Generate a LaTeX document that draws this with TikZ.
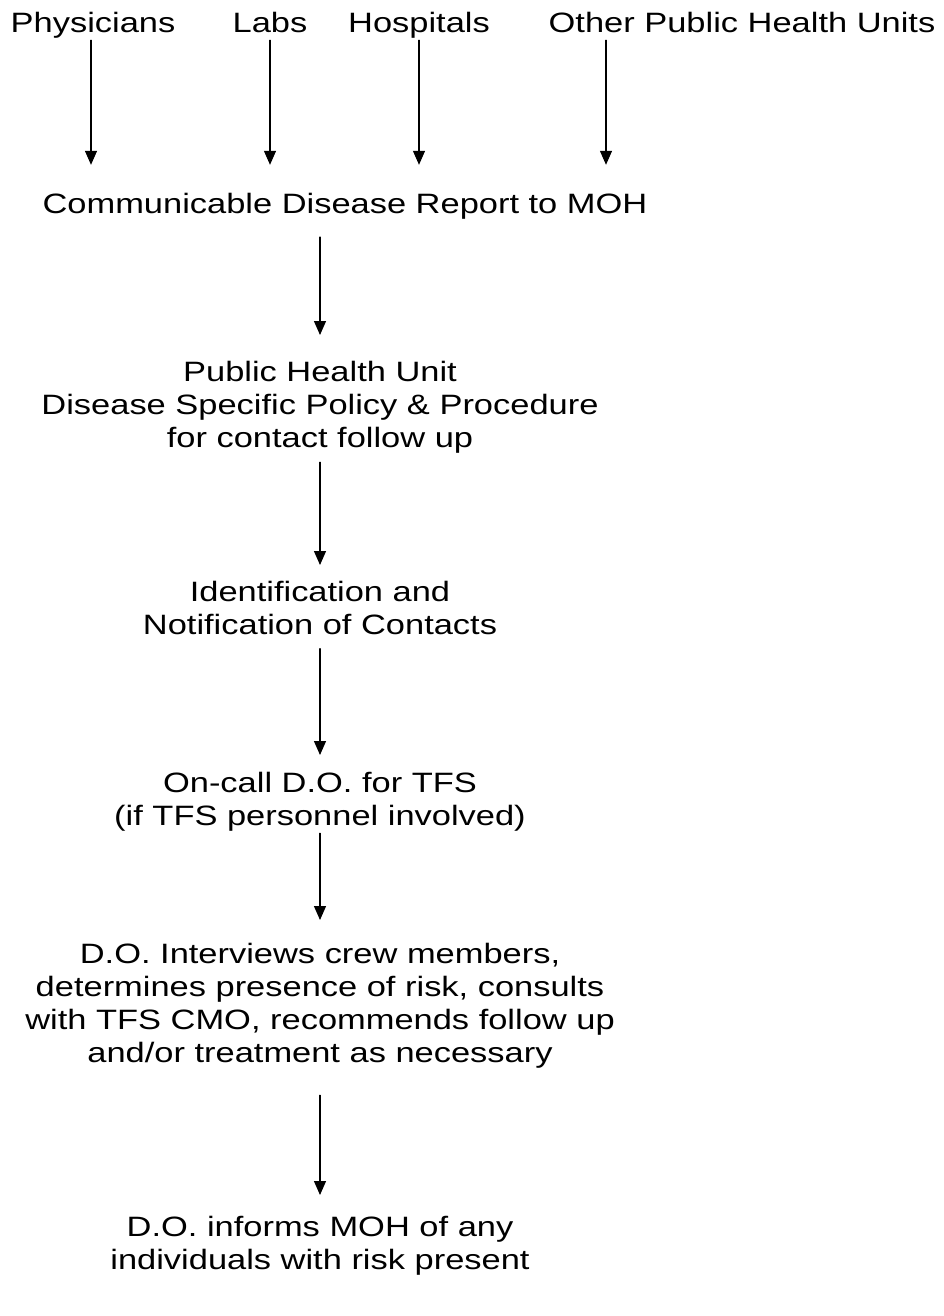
\documentclass[tikz,border=0pt]{standalone}
\usepackage{fontspec}
\setmainfont[FakeStretch=1.23]{Liberation Sans}
\usetikzlibrary{arrows.meta,positioning}

\begin{document}
\begin{tikzpicture}[x=1pt,y=-1pt,>=Latex,line cap=round,line join=round]
\path[fill=white] (0,0) rectangle (943,1316);
\tikzset{stage/.style={inner sep=0pt,align=center,text=black,font=\fontsize{28}{33}\selectfont},link/.style={draw=black,line width=1.25pt,-{Triangle[length=14pt,width=12pt]}}}
% sources
\node[stage,anchor=base] (phys) at (93,32.3) {Physicians};
\node[stage,anchor=base] (labs) at (270,32.3) {Labs};
\node[stage,anchor=base] (hosp) at (419,32.3) {Hospitals};
\node[stage,anchor=base] (other) at (742,32.3) {Other Public Health Units};
% chain
\node[stage,anchor=base] (report) at (345,213) {Communicable Disease Report to MOH};
\node[stage,anchor=north] (phu) at (320,360.7) {Public Health Unit\\Disease Specific Policy \& Procedure\\for contact follow up};
\node[stage,anchor=north] (ident) at (320,580.7) {Identification and\\Notification of Contacts};
\node[stage,anchor=north] (oncall) at (320,771.7) {On-call D.O. for TFS\\(if TFS personnel involved)};
\node[stage,anchor=north] (interview) at (320,942.7) {D.O. Interviews crew members,\\determines presence of risk, consults\\with TFS CMO, recommends follow up\\and/or treatment as necessary};
\node[stage,anchor=north] (inform) at (320,1215.7) {D.O. informs MOH of any\\individuals with risk present};
% arrows into the report
\draw[link,shorten <=8pt,shorten >=27.7pt] ([xshift=-2pt]phys.base) -- ([xshift=-2pt]phys.base |- report.north);
\draw[link,shorten <=8pt,shorten >=27.7pt] (labs.base) -- (labs.base |- report.north);
\draw[link,shorten <=8pt,shorten >=27.7pt] (hosp.base) -- (hosp.base |- report.north);
\draw[link,shorten <=8pt,shorten >=27.7pt] ([xshift=-136pt]other.base) -- ([xshift=-136pt]other.base |- report.north);
% down the chain
\draw[link,shorten <=18.1pt,shorten >=25.7pt] (phu.north |- report.south) -- (phu.north);
\draw[link,shorten <=9.1pt,shorten >=15.7pt] (phu.south) -- (ident.north);
\draw[link,shorten <=14pt,shorten >=16.7pt] (ident.south) -- (oncall.north);
\draw[link,shorten <=2.1pt,shorten >=22.7pt] (oncall.south) -- (interview.north);
\draw[link,shorten <=27.1pt,shorten >=20.7pt] (interview.south) -- (inform.north);
\end{tikzpicture}
\end{document}
